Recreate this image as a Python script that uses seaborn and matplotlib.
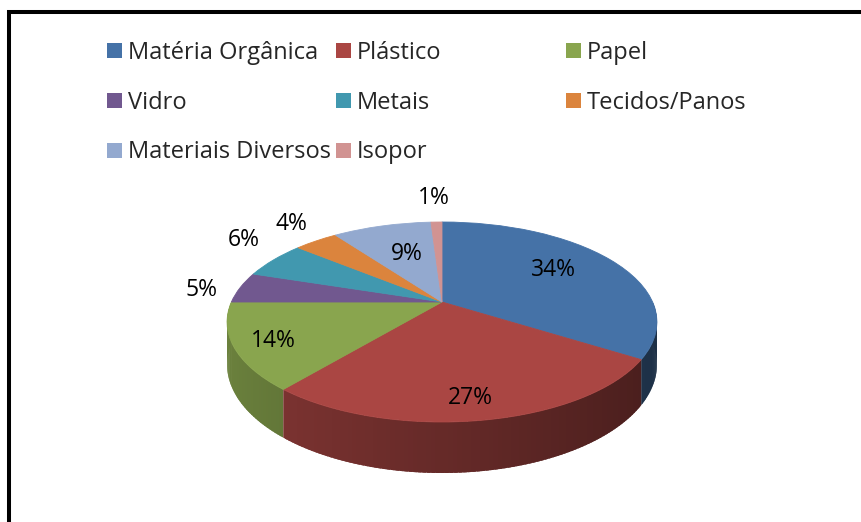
import numpy as np
import seaborn as sns
import matplotlib.pyplot as plt
import matplotlib.transforms as mtransforms
from matplotlib.patches import Polygon, Patch
from matplotlib.lines import Line2D
from matplotlib.colors import to_rgb

categorias = ['Matéria Orgânica', 'Plástico', 'Papel', 'Vidro', 'Metais',
              'Tecidos/Panos', 'Materiais Diversos', 'Isopor']
percentuais = [34, 27, 14, 5, 6, 4, 9, 1]
cores = ['#4572A7', '#AA4643', '#89A54E', '#71588F', '#4198AF',
         '#DB843D', '#93A9CF', '#D19392']

# posicao dos rotulos: distancia em raios e desvio do angulo medio (graus)
raio_rotulo = [0.67, 0.84, 0.83, 1.18, 1.31, 1.29, 0.59, 1.39]
desvio_rotulo = [3.5, -1.4, 1.8, 2.8, -5.5, -1.7, -1.4, 0.2]

# geometria da pizza 3D (em pixels, y para cima)
CX, CY = 442, 220
A, B, K = 210.6, 96.0, 0.2
ESP = 40.8


def projeta(u, v, z=0.0):
    s = 1.0 / (1.0 + K * v)
    return CX + A * u * s, CY + (B * v + ESP * z) * s


class Perspectiva(mtransforms.Transform):
    input_dims = 2
    output_dims = 2
    is_affine = False
    has_inverse = False

    def transform_non_affine(self, xy):
        xy = np.asarray(xy, dtype=float)
        x, y = projeta(xy[:, 0], xy[:, 1])
        return np.column_stack([x, y])


sns.set_theme(style='white')
plt.rcParams['font.family'] = ['Open Sans', 'DejaVu Sans']

fig = plt.figure(figsize=(8.62, 5.22), dpi=100)
ax = fig.add_axes([0, 0, 1, 1])

wedges, _ = ax.pie(percentuais, colors=cores, startangle=90, counterclock=False,
                   wedgeprops=dict(linewidth=0.6, zorder=3))
persp = Perspectiva()
for w in wedges:
    w.set_edgecolor(w.get_facecolor())
    w.set_transform(persp + ax.transData)

# lateral visivel (metade da frente), em faixas com degradê
faixas = []
for w, c in zip(wedges, cores):
    a1, a2 = max(w.theta1, -180), min(w.theta2, 0)
    if a2 <= a1:
        continue
    n = max(int(np.ceil(a2 - a1)), 1)
    ang = np.linspace(a1, a2, n + 1)
    rgb = np.array(to_rgb(c))
    for t1, t2 in zip(ang[:-1], ang[1:]):
        e1, e2 = np.radians(max(t1 - 0.4, a1)), np.radians(min(t2 + 0.4, a2))
        u1, v1, u2, v2 = np.cos(e1), np.sin(e1), np.cos(e2), np.sin(e2)
        pts = [projeta(u1, v1), projeta(u2, v2), projeta(u2, v2, -1), projeta(u1, v1, -1)]
        f = 0.6 - 0.19 * (u1 + u2) / 2
        faixas.append(((v1 + v2) / 2, pts, tuple(np.clip(rgb * f, 0, 1))))
faixas.sort(key=lambda q: -q[0])
for _, pts, cor in faixas:
    ax.add_patch(Polygon(pts, closed=True, facecolor=cor, edgecolor='none',
                         linewidth=0, zorder=2))

for w, p, r, d in zip(wedges, percentuais, raio_rotulo, desvio_rotulo):
    m = np.radians((w.theta1 + w.theta2) / 2 + d)
    x, y = projeta(r * np.cos(m), r * np.sin(m))
    ax.text(x, y, f'{p}%', ha='center', va='center', fontsize=16.5,
            color='black', zorder=5)

ax.set_aspect('auto')
ax.set_xlim(0, 862)
ax.set_ylim(0, 522)
ax.axis('off')

# legenda em tres colunas (preenchida por linhas, como no Excel)
colunas_x = [107, 336, 566]
for j, x0 in enumerate(colunas_x):
    idx = list(range(j, len(categorias), 3))
    hs = [Patch(facecolor=cores[i], edgecolor='none') for i in idx]
    fig.legend(hs, [categorias[i] for i in idx], loc='upper left',
               bbox_to_anchor=(x0 / 862, 1 - 41 / 522), frameon=False,
               fontsize=17, borderpad=0, borderaxespad=0,
               handlelength=0.64, handleheight=0.6, handletextpad=0.25,
               labelspacing=1.09)

# moldura
fig.add_artist(Line2D([9 / 862, 9 / 862, 1.0], [0.0, 1 - 12 / 522, 1 - 12 / 522],
                      transform=fig.transFigure, color='black', linewidth=2.9,
                      solid_joinstyle='miter'))

fig.savefig('out.png', dpi=100)
